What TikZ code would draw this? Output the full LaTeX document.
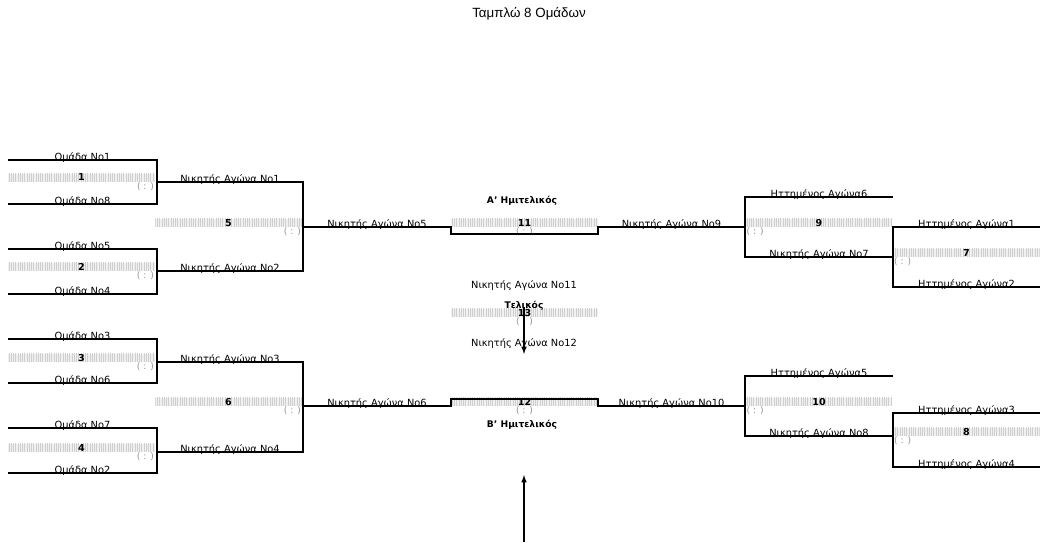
\documentclass[tikz,border=0pt]{standalone}
\usepackage{fontspec}
\setmainfont{DejaVu Sans}
\newfontfamily\titlefont{Liberation Sans}
\usepackage{tikz}
\usetikzlibrary{patterns.meta}

\begin{document}
\begin{tikzpicture}[x=0.025cm, y=-0.025cm,
    team/.style={anchor=base, inner sep=0pt, font=\fontsize{7}{8}\selectfont},
    strip/.style={anchor=south, preaction={fill=gray!12},
      pattern={Lines[angle=90,distance=1.6pt,line width=0.5pt]},
      pattern color=gray!38, minimum width=104pt, inner sep=0.5pt, text height=4.7pt,
      text depth=0pt, font=\bfseries\fontsize{6.8}{7}\selectfont},
    score/.style={inner sep=0.5pt, text=gray!85, font=\fontsize{6.5}{6.5}\selectfont},
    round/.style={font=\bfseries\fontsize{6.5}{7}\selectfont},
    bracket/.style={line width=0.8pt}]
  \useasboundingbox (0,0) rectangle (1040,542);
  \node[font=\titlefont\fontsize{9.5}{11}\selectfont] (title) at (529,14) {Ταμπλώ 8 Ομάδων};
  \coordinate (p1) at (8,160);   \coordinate (q1) at (157,160);
  \coordinate (r1) at (157,204); \coordinate (s1) at (8,204);
  \coordinate (p2) at (8,249);   \coordinate (q2) at (157,249);
  \coordinate (r2) at (157,294); \coordinate (s2) at (8,294);
  \coordinate (p3) at (8,339);   \coordinate (q3) at (157,339);
  \coordinate (r3) at (157,383); \coordinate (s3) at (8,383);
  \coordinate (p4) at (8,428);   \coordinate (q4) at (157,428);
  \coordinate (r4) at (157,473); \coordinate (s4) at (8,473);
  \coordinate (o1) at (157,182); \coordinate (u1) at (303,182);
  \coordinate (o2) at (157,271); \coordinate (u2) at (303,271);
  \coordinate (o3) at (157,362); \coordinate (u3) at (303,362);
  \coordinate (o4) at (157,452); \coordinate (u4) at (303,452);
  \coordinate (o5) at (303,227); \coordinate (o6) at (303,406);
  \coordinate (a11) at (451,227); \coordinate (b11) at (451,234);
  \coordinate (c11) at (598,234); \coordinate (d11) at (598,227);
  \coordinate (a12) at (451,406); \coordinate (b12) at (451,399);
  \coordinate (c12) at (598,399); \coordinate (d12) at (598,406);
  \coordinate (o9) at (745,227);  \coordinate (o10) at (745,406);
  \coordinate (h1) at (893,197); \coordinate (h2) at (745,197);
  \coordinate (h3) at (745,257); \coordinate (h4) at (893,257);
  \coordinate (h5) at (893,376); \coordinate (h6) at (745,376);
  \coordinate (h7) at (745,436); \coordinate (h8) at (893,436);
  \coordinate (j1) at (1040,227); \coordinate (j2) at (893,227);
  \coordinate (j3) at (893,287);  \coordinate (j4) at (1040,287);
  \coordinate (j5) at (1040,413); \coordinate (j6) at (893,413);
  \coordinate (j7) at (893,467);  \coordinate (j8) at (1040,467);
  \coordinate (f1) at (524,307); \coordinate (f2) at (524,354);
  \coordinate (g1) at (524,542); \coordinate (g2) at (524,475);
  \node[strip] (n1) at (81.5,182) {1};
  \node[strip] (n2) at (81.5,271) {2};
  \node[strip] (n3) at (81.5,362) {3};
  \node[strip] (n4) at (81.5,452) {4};
  \node[strip] (n5) at (228.5,227) {5};
  \node[strip] (n6) at (228.5,406) {6};
  \node[strip] (n11) at (524.5,227) {11};
  \node[strip] (n12) at (524.5,406) {12};
  \node[strip] (n13) at (524.5,317) {13};
  \node[strip] (n9) at (819,227) {9};
  \node[strip] (n10) at (819,406) {10};
  \node[strip] (n7) at (966.5,257) {7};
  \node[strip] (n8) at (966.5,436) {8};
  \node[score, anchor=north east] (sc1) at (n1.south east) {( : )};
  \node[score, anchor=north east] (sc2) at (n2.south east) {( : )};
  \node[score, anchor=north east] (sc3) at (n3.south east) {( : )};
  \node[score, anchor=north east] (sc4) at (n4.south east) {( : )};
  \node[score, anchor=north east] (sc5) at (n5.south east) {( : )};
  \node[score, anchor=north east] (sc6) at (n6.south east) {( : )};
  \node[score, anchor=north] (sc11) at (n11.south) {( : )};
  \node[score, anchor=north] (sc12) at (n12.south) {( : )};
  \node[score, anchor=north] (sc13) at (n13.south) {( : )};
  \node[score, anchor=north west] (sc9) at (n9.south west) {( : )};
  \node[score, anchor=north west] (sc10) at (n10.south west) {( : )};
  \node[score, anchor=north west] (sc7) at (n7.south west) {( : )};
  \node[score, anchor=north west] (sc8) at (n8.south west) {( : )};
  \draw[bracket] (p1) -- (q1) -- (r1) -- (s1);
  \draw[bracket] (p2) -- (q2) -- (r2) -- (s2);
  \draw[bracket] (p3) -- (q3) -- (r3) -- (s3);
  \draw[bracket] (p4) -- (q4) -- (r4) -- (s4);
  \draw[bracket] (o1) -- (u1) -- (u2) -- (o2);
  \draw[bracket] (o3) -- (u3) -- (u4) -- (o4);
  \draw[bracket] (o5) -- (a11) -- (b11) -- (c11) -- (d11) -- (o9);
  \draw[bracket] (o6) -- (a12) -- (b12) -- (c12) -- (d12) -- (o10);
  \draw[bracket] (h1) -- (h2) -- (h3) -- (h4);
  \draw[bracket] (h5) -- (h6) -- (h7) -- (h8);
  \draw[bracket] (j1) -- (j2) -- (j3) -- (j4);
  \draw[bracket] (j5) -- (j6) -- (j7) -- (j8);
  \draw[bracket, -latex] (f1) -- (f2);
  \draw[bracket, -latex] (g1) -- (g2);
  \node[team] (t1) at (82.5,160) {Ομάδα No1};
  \node[team] (t8) at (82.5,204) {Ομάδα No8};
  \node[team] (t5) at (82.5,249) {Ομάδα No5};
  \node[team] (t4) at (82.5,294) {Ομάδα No4};
  \node[team] (t3) at (82.5,339) {Ομάδα No3};
  \node[team] (t6) at (82.5,383) {Ομάδα No6};
  \node[team] (t7) at (82.5,428) {Ομάδα No7};
  \node[team] (t2) at (82.5,473) {Ομάδα No2};
  \node[team] (w1) at (230,182) {Νικητής Αγώνα No1};
  \node[team] (w2) at (230,271) {Νικητής Αγώνα No2};
  \node[team] (w3) at (230,362) {Νικητής Αγώνα No3};
  \node[team] (w4) at (230,452) {Νικητής Αγώνα No4};
  \node[team] (w5) at (377,227) {Νικητής Αγώνα No5};
  \node[team] (w6) at (377,406) {Νικητής Αγώνα No6};
  \node[team] (w9) at (671.5,227) {Νικητής Αγώνα No9};
  \node[team] (w10) at (671.5,406) {Νικητής Αγώνα No10};
  \node[team] (w7) at (819,257) {Νικητής Αγώνα No7};
  \node[team] (w8) at (819,436) {Νικητής Αγώνα No8};
  \node[team] (w11) at (524,288) {Νικητής Αγώνα No11};
  \node[team] (w12) at (524,346) {Νικητής Αγώνα No12};
  \node[team] (l6) at (819,197) {Ηττημένος Αγώνα6};
  \node[team] (l5) at (819,376) {Ηττημένος Αγώνα5};
  \node[team] (l1) at (966.5,227) {Ηττημένος Αγώνα1};
  \node[team] (l2) at (966.5,287) {Ηττημένος Αγώνα2};
  \node[team] (l3) at (966.5,413) {Ηττημένος Αγώνα3};
  \node[team] (l4) at (966.5,467) {Ηττημένος Αγώνα4};
  \node[round] (semi1) at (522,201) {Α' Ημιτελικός};
  \node[round] (semi2) at (522,425) {Β' Ημιτελικός};
  \node[round] (final) at (524,306) {Τελικός};
\end{tikzpicture}
\end{document}
